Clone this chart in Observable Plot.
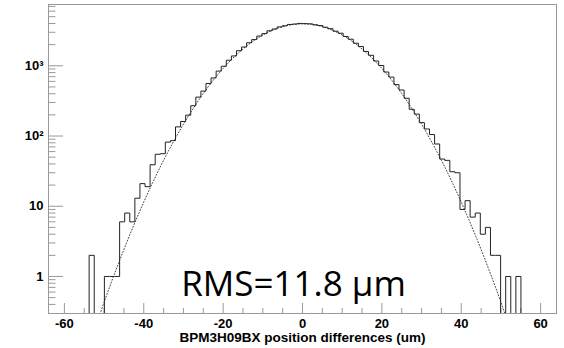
<!DOCTYPE html>
<html><head><meta charset="utf-8">
<script src="https://cdn.jsdelivr.net/npm/d3@7"></script>
<script src="https://cdn.jsdelivr.net/npm/@observablehq/plot@0.6"></script>
<style>html,body{margin:0;padding:0;background:#fff;}</style>
</head><body><div id="chart"></div>
<script>
// Histogram range and bin contents (100 bins from -64 to 64)
const xMin = -64, xMax = 64;
const counts = [
  0, 0, 0, 0, 0, 0, 0, 0, 2, 0,
  0, 1, 1, 1, 6, 8, 6, 13, 21, 19,
  39, 55, 56, 82, 86, 135, 161, 198, 270, 358,
  436, 560, 672, 840, 985, 1200, 1380, 1640, 1850, 2130,
  2360, 2650, 2870, 3150, 3340, 3580, 3710, 3880, 3930, 4010,
  3985, 3960, 3840, 3745, 3540, 3375, 3110, 2910, 2615, 2390,
  2095, 1880, 1600, 1410, 1170, 1010, 815, 690, 540, 452,
  345, 240, 205, 155, 126, 105, 77, 47, 45, 31,
  30, 9, 12, 7, 8, 4, 5, 2, 2, 0,
  1, 0, 1, 0, 0, 0, 0, 0, 0, 0
];
// Gaussian fit curve (dotted), read points
const fitX = [-52,-50,-48,-46,-44,-42,-40,-38,-36,-34,-32,-30,-28,-26,-24,-22,-20,-18,-16,-14,-12,-10,-8,-6,-4,-2,0,
              2,4,6,8,10,12,14,16,18,20,22,24,26,28,30,32,34,36,38,40,42,44,46,48,50,52];
const fitY = [0.20,0.43,0.88,1.74,3.37,6.3,11.5,20.3,34.9,58,94,148,226,335,483,676,919,1213,1555,1936,2340,2749,3135,3472,3735,3903,3960,
              3903,3735,3472,3135,2749,2340,1936,1555,1213,919,676,483,335,226,148,94,58,34.9,20.3,11.5,6.3,3.37,1.74,0.88,0.43,0.20];
// Axes
const xMajorTicks = [-60, -40, -20, 0, 20, 40, 60];
const xMinorTicks = [-55, -50, -45, -35, -30, -25, -15, -10, -5, 5, 10, 15, 25, 30, 35, 45, 50, 55];
const yMajorTicks = [1, 10, 100, 1000];
const yTickLabels = ["1", "10", "10²", "10³"];
const yMinorTicks = [0.4, 0.5, 0.6, 0.7, 0.8, 0.9, 2, 3, 4, 5, 6, 7, 8, 9, 20, 30, 40, 50, 60, 70, 80, 90,
                     200, 300, 400, 500, 600, 700, 800, 900, 2000, 3000, 4000, 5000, 6000, 7000];
const yDomain = [0.297, 7460];
const xTitle = "BPM3H09BX position differences (um)";
const rmsLabel = "RMS=11.8 μm";

const nb = counts.length, bw = (xMax - xMin) / nb;
const floorY = yDomain[0];
const steps = counts.map((c, i) => ({x: xMin + i * bw, y: c > 0 ? c : floorY}));
steps.push({x: xMax, y: steps[nb - 1].y});
const fit = fitX.map((x, i) => ({x, y: fitY[i]}));

const W = 564, H = 348, mL = 48, mR = 8, mT = 4, mB = 35;
const fw = W - mL - mR, fh = H - mT - mB;
const gray = "#999";

const chart = Plot.plot({
  width: W, height: H,
  marginLeft: mL, marginRight: mR, marginTop: mT, marginBottom: mB,
  x: {domain: [xMin, xMax]},
  y: {type: "log", domain: yDomain},
  style: {fontFamily: "'Liberation Sans', Arial, sans-serif", background: "#fff"},
  marks: [
    Plot.tickX(xMinorTicks, {x: d => d, insetTop: fh - 5, stroke: gray}),
    Plot.tickX(xMajorTicks, {x: d => d, insetTop: fh - 10, stroke: gray}),
    Plot.tickY(yMinorTicks, {y: d => d, insetRight: fw - 7.5, stroke: gray}),
    Plot.tickY(yMajorTicks, {y: d => d, insetRight: fw - 15, stroke: gray}),
    Plot.axisX({ticks: xMajorTicks, tickSize: 0, tickPadding: 5, fontSize: 13, fontWeight: "bold",
                tickFormat: d => String(d), label: null}),
    Plot.axisY({ticks: yMajorTicks, tickSize: 0, tickPadding: 5, fontSize: 13, fontWeight: "bold",
                tickFormat: d => yTickLabels[yMajorTicks.indexOf(d)], label: null}),
    Plot.line(fit, {x: "x", y: "y", stroke: "#444", strokeWidth: 1, strokeDasharray: "1,2", clip: true}),
    Plot.line(steps, {x: "x", y: "y", curve: "step-after", stroke: "#222", strokeWidth: 1}),
    Plot.frame({stroke: gray}),
    Plot.text([xTitle], {text: d => d, frameAnchor: "bottom", lineAnchor: "bottom", dy: 28,
                         fontSize: 13.5, fontWeight: "bold", fill: "#000"}),
    Plot.text([rmsLabel], {text: d => d, frameAnchor: "bottom", lineAnchor: "bottom", dx: -9, dy: -18,
                           fontSize: 35, fontFamily: "'Open Sans', sans-serif", fill: "#000"})
  ]
});
document.getElementById("chart").appendChild(chart);
</script>
</body></html>
